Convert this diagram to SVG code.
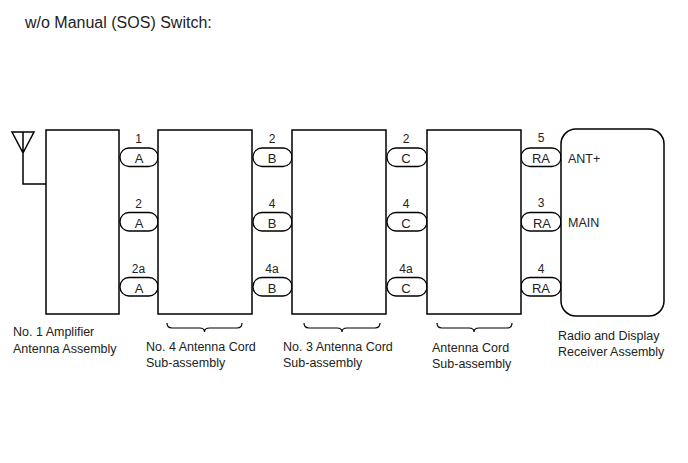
<svg xmlns="http://www.w3.org/2000/svg" width="688" height="463" viewBox="0 0 688 463">
<style>
.box{fill:#fff;stroke:#000;stroke-width:1.5}
.pill{fill:#fff;stroke:#000;stroke-width:1.3}
.ln{fill:none;stroke:#000;stroke-width:1.5}
.br{fill:none;stroke:#000;stroke-width:1.2}
text{font-family:"Liberation Sans",Arial,sans-serif;fill:#222}
.t{font-size:12.5px}
.n{font-size:12px;text-anchor:middle}
.p{font-size:13px;text-anchor:middle}
.title{font-size:16px}
</style>
<rect width="688" height="463" fill="#fff"/>
<text class="title" x="25" y="28">w/o Manual (SOS) Switch:</text>

<g id="connectors">
<path class="ln" d="M12,132 L34,132 L23,153 Z M23,132 L23,184 L46,184"/>
<g id="pills">
<rect class="pill" x="120" y="148" width="38" height="18.5" rx="9"/>
<rect class="pill" x="120" y="212.5" width="38" height="18.5" rx="9"/>
<rect class="pill" x="120" y="277.5" width="38" height="18.5" rx="9"/>
<rect class="pill" x="253" y="148" width="39" height="18.5" rx="9"/>
<rect class="pill" x="253" y="212.5" width="39" height="18.5" rx="9"/>
<rect class="pill" x="253" y="277.5" width="39" height="18.5" rx="9"/>
<rect class="pill" x="387" y="148" width="40" height="18.5" rx="9"/>
<rect class="pill" x="387" y="212.5" width="40" height="18.5" rx="9"/>
<rect class="pill" x="387" y="277.5" width="40" height="18.5" rx="9"/>
<rect class="pill" x="521" y="148" width="40" height="18.5" rx="9"/>
<rect class="pill" x="521" y="212.5" width="40" height="18.5" rx="9"/>
<rect class="pill" x="521" y="277.5" width="40" height="18.5" rx="9"/>
</g>
<g id="pill-labels">
<text class="n" x="138.5" y="143">1</text><text class="p" x="139" y="162.5">A</text>
<text class="n" x="138.5" y="208">2</text><text class="p" x="139" y="227.5">A</text>
<text class="n" x="138.5" y="273">2a</text><text class="p" x="139" y="292.5">A</text>
<text class="n" x="272" y="143">2</text><text class="p" x="272" y="162.5">B</text>
<text class="n" x="272" y="208">4</text><text class="p" x="272" y="227.5">B</text>
<text class="n" x="272" y="273">4a</text><text class="p" x="272" y="292.5">B</text>
<text class="n" x="406" y="143">2</text><text class="p" x="406" y="162.5">C</text>
<text class="n" x="406" y="208">4</text><text class="p" x="406" y="227.5">C</text>
<text class="n" x="406" y="273">4a</text><text class="p" x="406" y="292.5">C</text>
<text class="n" x="541" y="142">5</text><text class="p" x="541" y="162.5">RA</text>
<text class="n" x="541" y="207">3</text><text class="p" x="542" y="228">RA</text>
<text class="n" x="541" y="273">4</text><text class="p" x="541" y="292.5">RA</text>
</g>
</g>

<g id="amp">
<rect class="box" x="46" y="130" width="73" height="184"/>
<text class="t" x="13" y="336">No. 1 Amplifier</text>
<text class="t" x="13" y="353">Antenna Assembly</text>
</g>
<g id="cord4">
<rect class="box" x="158" y="130" width="94" height="184"/>
<path class="br" d="M167,323 Q167,328 172,328 L199.5,328 Q204.5,328 204.5,332 Q204.5,328 209.5,328 L237,328 Q242,328 242,323"/>
<text class="t" x="146" y="351">No. 4 Antenna Cord</text>
<text class="t" x="146" y="367">Sub-assembly</text>
</g>
<g id="cord3">
<rect class="box" x="292" y="130" width="94" height="184"/>
<path class="br" d="M304,323 Q304,328 309,328 L337,328 Q342,328 342,332 Q342,328 347,328 L375,328 Q380,328 380,323"/>
<text class="t" x="283" y="351">No. 3 Antenna Cord</text>
<text class="t" x="283" y="367">Sub-assembly</text>
</g>
<g id="cord">
<rect class="box" x="427" y="130" width="94" height="184"/>
<path class="br" d="M437,323 Q437,328 442,328 L469,328 Q474,328 474,332 Q474,328 479,328 L507,328 Q512,328 512,323"/>
<text class="t" x="432" y="352">Antenna Cord</text>
<text class="t" x="432" y="368">Sub-assembly</text>
</g>
<g id="radio">
<rect class="box" x="561" y="129" width="103" height="187" rx="15"/>
<text class="t" x="568" y="163">ANT+</text>
<text class="t" x="568" y="227">MAIN</text>
<text class="t" x="558" y="340">Radio and Display</text>
<text class="t" x="558" y="356">Receiver Assembly</text>
</g>
</svg>
